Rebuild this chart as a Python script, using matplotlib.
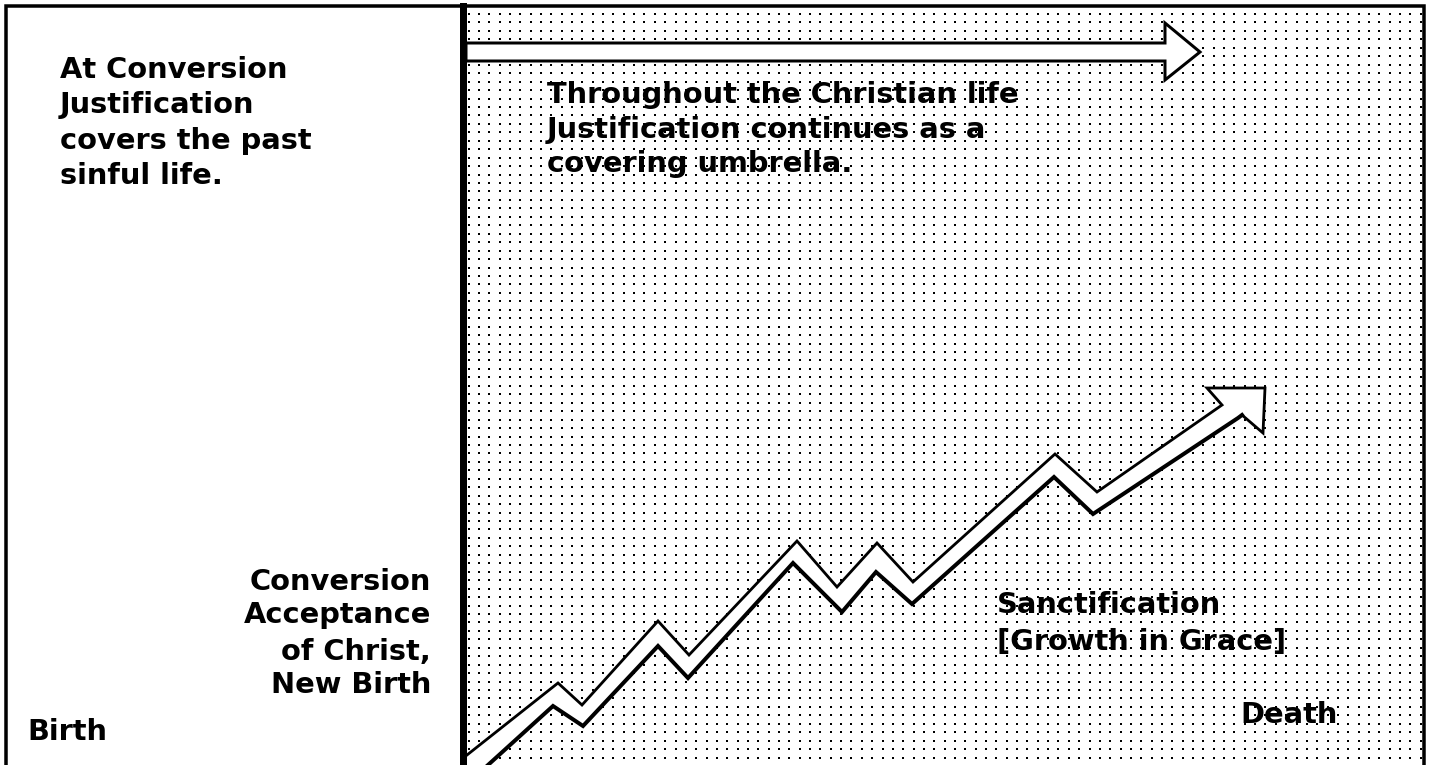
import numpy as np
import matplotlib
matplotlib.use("Agg")
import matplotlib.pyplot as plt
from matplotlib.patches import Polygon

# ---- data (pixel-space layout of the diagram) ----
# Zig-zag "Sanctification" band: upper and lower outlines
upper_x = [467, 558, 582, 658, 689, 797, 837, 877, 913, 1055, 1097, 1222]
upper_y = [755, 683, 705, 621, 655, 541, 587, 543, 582, 454, 492, 405]
lower_x = [1238, 1093, 1054, 912, 876, 842, 793, 688, 658, 583, 553, 488]
lower_y = [418, 514, 477, 604, 572, 612, 563, 678, 646, 726, 706, 765]
# arrow head of the zig-zag band
head_x = [1222, 1207, 1265, 1263, 1242, 1238]
head_y = [405, 388, 388, 433, 415, 418]

# Justification arrow (horizontal)
just_x = [466, 1165, 1165, 1200, 1165, 1165, 466]
just_y = [43, 43, 23, 52, 80, 61, 61]

left_top_lines = ["At Conversion", "Justification", "covers the past", "sinful life."]
left_top_base = [78, 113, 149, 184]
left_bot_lines = ["Conversion", "Acceptance", "of Christ,", "New Birth"]
left_bot_base = [590, 623, 660, 693]
mid_lines = ["Throughout the Christian life", "Justification continues as a",
             "covering umbrella."]
mid_base = [103, 138, 172]
sanct_lines = ["Sanctification", "[Growth in Grace]"]
sanct_base = [613, 650]

W, H = 1434, 765
fig = plt.figure(figsize=(W / 100, H / 100), dpi=100)
ax = fig.add_axes([0, 0, 1, 1])
ax.set_xlim(0, W)
ax.set_ylim(H, 0)
ax.axis("off")

PX = 0.72  # points per pixel

# dotted background on the right panel
gx = np.arange(468.5, 1421, 10.35)
gy = np.arange(14, 766, 8.45)
GX, GY = np.meshgrid(gx, gy)
ax.scatter(GX.ravel(), GY.ravel(), s=(2.7 * PX) ** 2, marker="s", c="black",
           linewidths=0, zorder=1)

# frame
ax.plot([6, 6, 1424, 1424], [765, 6, 6, 765], color="black", lw=3.5 * PX,
        solid_joinstyle="miter", zorder=4)
ax.plot([462.5, 462.5], [6, 765], color="black", lw=7 * PX, zorder=4)

# Justification arrow
ax.add_patch(Polygon(list(zip(just_x, just_y)), closed=True, facecolor="white",
                     edgecolor="black", lw=3 * PX, joinstyle="miter", zorder=2))

# zig-zag band
poly_x = upper_x + head_x[1:] + lower_x[1:] + [466]
poly_y = upper_y + head_y[1:] + lower_y[1:] + [765]
ax.add_patch(Polygon(list(zip(poly_x, poly_y)), closed=True, facecolor="white",
                     edgecolor="none", zorder=2))
ax.plot(upper_x + head_x[1:5], upper_y + head_y[1:5], color="black",
        lw=2.8 * PX, solid_joinstyle="miter", zorder=3)
ax.plot([head_x[4]] + lower_x, [head_y[4]] + lower_y, color="black",
        lw=4 * PX, solid_joinstyle="miter", zorder=3)

font = dict(family="DejaVu Sans", weight="bold", size=20.8, color="black",
            va="baseline", zorder=5)

for t, y in zip(left_top_lines, left_top_base):
    ax.text(60, y, t, ha="left", **font)
for t, y in zip(left_bot_lines, left_bot_base):
    ax.text(431, y, t, ha="right", **font)
ax.text(27, 740, "Birth", ha="left", **font)
for t, y in zip(mid_lines, mid_base):
    ax.text(547, y, t, ha="left", **font)
for t, y in zip(sanct_lines, sanct_base):
    ax.text(997, y, t, ha="left", **font)
ax.text(1240, 723, "Death", ha="left", **font)

fig.savefig("out.png", dpi=100, facecolor="white")
